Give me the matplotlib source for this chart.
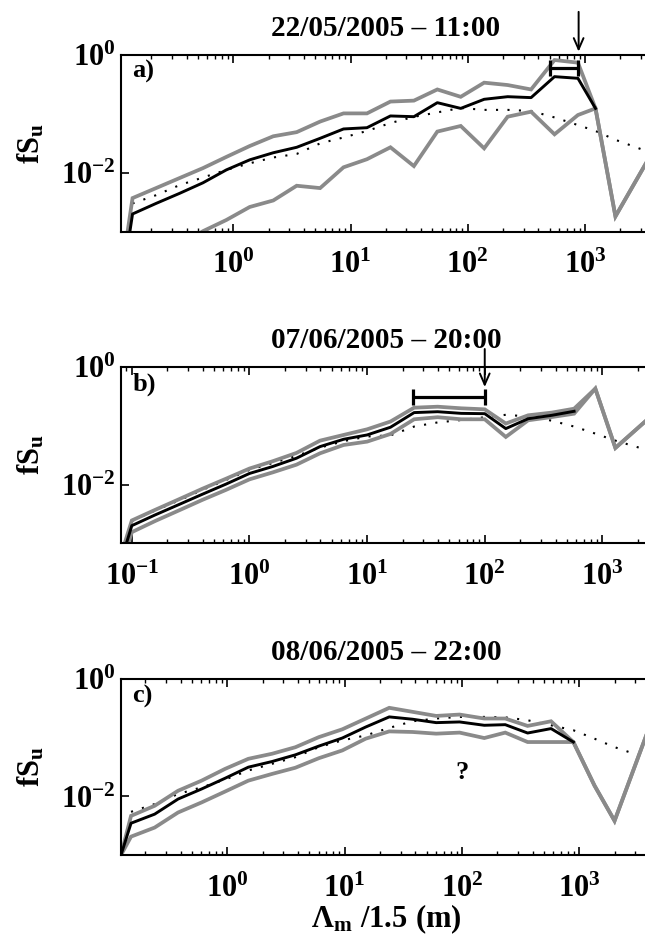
import numpy as np
import matplotlib
matplotlib.use('Agg')
import matplotlib.pyplot as plt
from matplotlib.ticker import FixedLocator, LogLocator, FuncFormatter, NullLocator, NullFormatter

plt.rcParams.update({
    'font.family': 'Liberation Serif',
    'font.weight': 'bold',
    'mathtext.fontset': 'custom',
    'mathtext.rm': 'Liberation Serif:bold',
    'mathtext.it': 'Liberation Serif:bold',
    'mathtext.bf': 'Liberation Serif:bold',
    'axes.linewidth': 1.5,
})

GRAY = '#8a8a8a'

#######################
# data
#######################
# a) 22/05/2005 - 11:00
xa = [0.110, 0.138, 0.219, 0.347, 0.550, 0.871, 1.38, 2.19, 3.47, 5.50, 8.71, 13.8,
      21.9, 34.7, 55.0, 87.1, 138, 219, 347, 550, 871, 1230, 1820, 3660]
a_up = [1.74e-4, 0.00372, 0.0055, 0.00813, 0.0120, 0.0186, 0.0285, 0.0417, 0.0490, 0.0741,
        0.102, 0.102, 0.162, 0.168, 0.260, 0.195, 0.339, 0.309, 0.260, 0.822, 0.741,
        0.124, 0.00182, 0.0204]
a_lo = [3.2e-5, 1.26e-4, 2.8e-4, 5.6e-4, 0.00102, 0.00158, 0.00263, 0.00339, 0.00603, 0.00550,
        0.0124, 0.0170, 0.0271, 0.0130, 0.0501, 0.0624, 0.0260, 0.0897, 0.109, 0.0450, 0.0957,
        0.124, 0.00182, 0.0204]
a_mean = [1.0e-4, 0.00200, 0.00302, 0.00447, 0.00676, 0.0112, 0.0166, 0.0219, 0.0271, 0.0385,
          0.0555, 0.0583, 0.0923, 0.0897, 0.155, 0.124, 0.177, 0.196, 0.189, 0.429, 0.402,
          0.124]
xa_mod = xa[1:]
a_mod = [0.00302, 0.00417, 0.00617, 0.00832, 0.0112, 0.0145, 0.0182, 0.0209, 0.0316, 0.0398,
         0.0513, 0.070, 0.0891, 0.106, 0.126, 0.117, 0.117, 0.112, 0.0871, 0.0646, 0.0513,
         0.0363, 0.0219]
a_bar = [501, 871]
a_bar_y = 0.61
a_arrow_x = 883

# b) 07/06/2005 - 20:00
xb = [0.0809, 0.1, 0.158, 0.251, 0.398, 0.631, 1.0, 1.58, 2.51, 3.98, 6.31, 10.0, 15.8,
      25.1, 39.8, 63.1, 100, 151, 234, 372, 575, 871, 1290, 2590]
b_up = [6.3e-4, 0.00245, 0.00372, 0.00562, 0.00851, 0.0126, 0.0188, 0.0251, 0.0347, 0.0562,
        0.0703, 0.0877, 0.119, 0.205, 0.213, 0.200, 0.192, 0.110, 0.152, 0.169, 0.197,
        0.433, 0.0422, 0.146]
b_lo = [4.0e-4, 0.00155, 0.0024, 0.00363, 0.0055, 0.00813, 0.0123, 0.0162, 0.0219, 0.0342,
        0.0474, 0.0541, 0.0731, 0.130, 0.141, 0.130, 0.130, 0.065, 0.125, 0.142, 0.162,
        0.433, 0.0422, 0.146]
b_mean = [5.0e-4, 0.00200, 0.00305, 0.00457, 0.00686, 0.0102, 0.0155, 0.0204, 0.0282, 0.0445,
          0.0593, 0.0703, 0.0951, 0.169, 0.175, 0.164, 0.162, 0.0902, 0.133, 0.152, 0.178]
xb_mod = xb[1:]
b_mod = [0.0024, 0.00363, 0.00537, 0.00813, 0.012, 0.0178, 0.0234, 0.0309, 0.0427, 0.055,
         0.0661, 0.0692, 0.0977, 0.115, 0.126, 0.141, 0.155, 0.145, 0.123, 0.0977, 0.0741,
         0.0562, 0.0372]
b_bar = [24.5, 100]
b_bar_y = 0.308
b_arrow_x = 100

# c) 08/06/2005 - 22:00
xc = [0.124, 0.151, 0.240, 0.380, 0.603, 0.955, 1.51, 2.40, 3.80, 6.03, 9.55, 15.1, 24.0,
      38.0, 60.3, 95.5, 155, 234, 363, 575, 891, 1350, 2000, 4090]
c_up = [0.001, 0.00466, 0.00692, 0.0125, 0.0186, 0.0295, 0.0439, 0.0535, 0.0692, 0.103, 0.140,
        0.213, 0.326, 0.278, 0.237, 0.250, 0.214, 0.214, 0.160, 0.192, 0.0849, 0.0153,
        0.00383, 0.182]
c_lo = [0.001, 0.00206, 0.00294, 0.00532, 0.0079, 0.0121, 0.0186, 0.0242, 0.0309, 0.045, 0.061,
        0.0968, 0.129, 0.126, 0.118, 0.123, 0.0993, 0.123, 0.0849, 0.0849, 0.0849, 0.0153,
        0.00383, 0.182]
c_mean = [0.001, 0.00349, 0.00498, 0.00902, 0.0134, 0.0204, 0.0316, 0.0394, 0.0513, 0.0724,
          0.0993, 0.153, 0.228, 0.208, 0.182, 0.187, 0.164, 0.168, 0.121, 0.144, 0.0849]
xc_mod = xc[1:]
c_mod = [0.00546, 0.00741, 0.011, 0.0143, 0.0194, 0.0277, 0.036, 0.0468, 0.0695, 0.0906, 0.110,
         0.148, 0.192, 0.214, 0.228, 0.228, 0.224, 0.200, 0.164, 0.135, 0.0968, 0.0695, 0.0427]

titles = ['22/05/2005 \u2013 11:00', '07/06/2005 \u2013 20:00', '08/06/2005 \u2013 22:00']
tags = ['a)', 'b)', 'c)']


def log_format(v, pos):
    return r'$10^{%d}$' % int(round(np.log10(v)))


def setup(ax, xlim, title, tag):
    ax.set_xscale('log')
    ax.set_yscale('log')
    ax.set_xlim(xlim)
    ax.set_ylim(1e-3, 1)
    ax.xaxis.set_major_locator(LogLocator(base=10, numticks=20))
    ax.xaxis.set_minor_locator(LogLocator(base=10, subs=np.arange(2, 10), numticks=20))
    ax.xaxis.set_minor_formatter(NullFormatter())
    ax.xaxis.set_major_formatter(FuncFormatter(log_format))
    ax.yaxis.set_major_locator(FixedLocator([1e-2, 1]))
    ax.yaxis.set_minor_locator(NullLocator())
    ax.yaxis.set_major_formatter(FuncFormatter(log_format))
    ax.tick_params(which='both', direction='in', top=True, right=False, labelsize=22)
    ax.tick_params(which='major', length=6, width=1.2)
    ax.tick_params(which='minor', length=3, width=1.0)
    ax.tick_params(axis='x', pad=14)
    ax.tick_params(axis='y', pad=4)
    ax.set_title(title, fontsize=21, fontweight='bold', pad=14)
    ax.set_ylabel(r'$fS_u$', fontsize=22)
    ax.yaxis.set_label_coords(-0.14, 0.5)
    ax.text(0.021, 0.905, tag, transform=ax.transAxes, fontsize=19,
            fontweight='bold', va='center', ha='left')


def draw(ax, x, up, lo, mean, xm, mod):
    ax.plot(xm, mod, color='k', lw=1.5, linestyle=(0, (1, 4.5)), dash_capstyle='butt')
    ax.plot(x, up, color=GRAY, lw=2.7, solid_joinstyle='miter')
    ax.plot(x, lo, color=GRAY, lw=2.7, solid_joinstyle='miter')
    ax.plot(x[:len(mean)], mean, color='k', lw=2.1)


def bar(ax, xs, y):
    c = np.sqrt(xs[0] * xs[1])
    ax.errorbar(c, y, xerr=[[c - xs[0]], [xs[1] - c]], fmt='none', ecolor='k',
                elinewidth=2.3, capsize=6, capthick=2.3)


def arrow(ax, x, y0, y1):
    ax.annotate('', xy=(x, y1), xytext=(x, y0), annotation_clip=False,
                arrowprops=dict(arrowstyle='->,head_length=0.8,head_width=0.35',
                                lw=1.4, color='k', shrinkA=0, shrinkB=0))


fig = plt.figure(figsize=(6.45, 9.42), dpi=100)
W = 530 / 645
ax_a = fig.add_axes([121 / 645, 1 - 231.7 / 942, W, 176.7 / 942])
ax_b = fig.add_axes([121 / 645, 1 - 543.3 / 942, W, 176.0 / 942])
ax_c = fig.add_axes([121 / 645, 1 - 855.0 / 942, W, 175.7 / 942])

setup(ax_a, (xa[0], xa[-1]), titles[0], tags[0])
draw(ax_a, xa, a_up, a_lo, a_mean, xa_mod, a_mod)
bar(ax_a, a_bar, a_bar_y)
arrow(ax_a, a_arrow_x, 5.4, 1.14)

setup(ax_b, (xb[0], xb[-1]), titles[1], tags[1])
draw(ax_b, xb, b_up, b_lo, b_mean, xb_mod, b_mod)
bar(ax_b, b_bar, b_bar_y)
arrow(ax_b, b_arrow_x, 2.05, 0.461)

setup(ax_c, (xc[0], xc[-1]), titles[2], tags[2])
draw(ax_c, xc, c_up, c_lo, c_mean, xc_mod, c_mod)
ax_c.text(100, 0.0259, '?', fontsize=19, fontweight='bold', ha='center', va='center')
ax_c.set_xlabel(r'$\Lambda_m\ /1.5\ (m)$', fontsize=22)
ax_c.xaxis.set_label_coords(0.5, -0.27)

fig.savefig('out.png', dpi=100)
